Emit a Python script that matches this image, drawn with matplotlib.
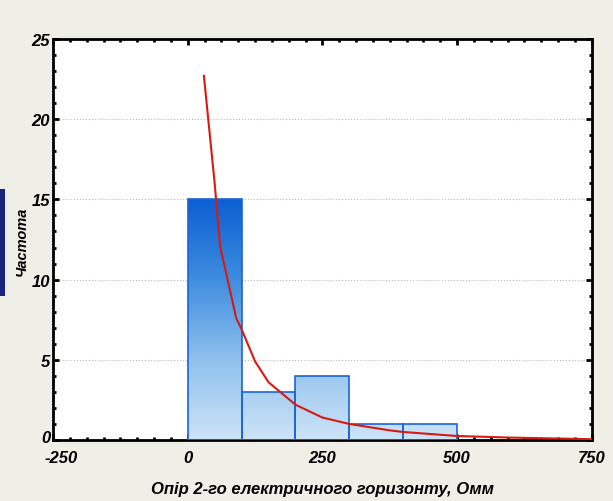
import numpy as np
import matplotlib
matplotlib.use("Agg")
import matplotlib.pyplot as plt
import matplotlib.ticker as mticker
import matplotlib.transforms as mtransforms
from matplotlib.colors import LinearSegmentedColormap
from matplotlib.patches import Rectangle

# histogram bins (Omm) and counts
bin_left = [0, 100, 200, 300, 400]
bin_width = 100
counts = [15, 3, 4, 1, 1]

# fitted curve
curve_x = [30, 50, 60, 90, 100, 125, 150, 200, 250, 300, 375, 400, 500, 600, 750]
curve_y = [22.7, 16.0, 12.1, 7.6, 6.9, 4.9, 3.6, 2.2, 1.4, 1.0, 0.6, 0.5, 0.25, 0.15, 0.05]

x_ticks = [-250, 0, 250, 500, 750]
y_ticks = [0, 5, 10, 15, 20, 25]

plt.rcParams['font.family'] = ['Liberation Sans', 'DejaVu Sans']
plt.rcParams['axes.unicode_minus'] = False

fig = plt.figure(figsize=(6.13, 5.02), dpi=100, facecolor='#efeee7')
ax = fig.add_axes([0.0865, 0.1215, 0.879, 0.7988])
ax.set_facecolor('white')

# gradient fill: dark blue at the top (15), pale at 0
cmap = LinearSegmentedColormap.from_list('bars', ['#cde4f8', '#8fc1ec', '#3f8ddf', '#0b5fd2'])
grad = np.linspace(0, 1, 256).reshape(-1, 1)
for left, h in zip(bin_left, counts):
    rect = Rectangle((left, 0), bin_width, h, facecolor='none', edgecolor='#1c63d6',
                     linewidth=1.2, zorder=3)
    ax.add_patch(rect)
    img = ax.imshow(grad, cmap=cmap, origin='lower', aspect='auto',
                    extent=(-250, 750, 0, 15), vmin=0, vmax=1, zorder=2)
    img.set_clip_path(rect)

ax.plot(curve_x, curve_y, color='#d81a10', linewidth=1.5, zorder=4)

ax.set_xlim(-250, 750)
ax.set_ylim(0, 25)
ax.set_xticks(x_ticks)
ax.set_yticks(y_ticks)
ax.xaxis.set_minor_locator(mticker.MultipleLocator(250 / 8))
ax.yaxis.set_minor_locator(mticker.MultipleLocator(1))
ax.tick_params(which='both', direction='in', top=True, right=True, width=2, color='black')
ax.tick_params(which='major', length=4)
ax.tick_params(which='minor', length=2.5)
ax.tick_params(axis='both', labelsize=12)
ax.tick_params(axis='y', pad=2)
ax.tick_params(axis='x', pad=7)
for lab in ax.get_xticklabels() + ax.get_yticklabels():
    lab.set_fontweight('bold')
    lab.set_fontstyle('italic')
# nudge the first x label right so it clears the y "0"
first = ax.get_xticklabels()[0]
first.set_transform(first.get_transform() +
                    mtransforms.ScaledTranslation(6 / 72, 0, fig.dpi_scale_trans))
ax.get_yticklabels()[0].set_transform(ax.get_yticklabels()[0].get_transform() +
                    mtransforms.ScaledTranslation(0, 3 / 72, fig.dpi_scale_trans))

ax.grid(axis='y', which='major', color='#b8b8b8', linestyle=':', linewidth=0.8, zorder=0)
ax.set_axisbelow(True)
for s in ax.spines.values():
    s.set_linewidth(2)
    s.set_color('black')

ax.set_xlabel('Опір 2-го електричного горизонту, Омм', fontsize=12, fontweight='bold',
              fontstyle='italic', labelpad=12)
fig.text(0.035, 0.52, 'Частота', rotation=90, fontsize=10.5, fontweight='bold',
         fontstyle='italic', ha='center', va='center')
# dark blue strip at the left edge
fig.patches.append(Rectangle((0.0, 0.408), 0.008, 0.214, transform=fig.transFigure,
                             facecolor='#1a237e', edgecolor='none'))

fig.savefig('out.png', dpi=100, facecolor=fig.get_facecolor())
